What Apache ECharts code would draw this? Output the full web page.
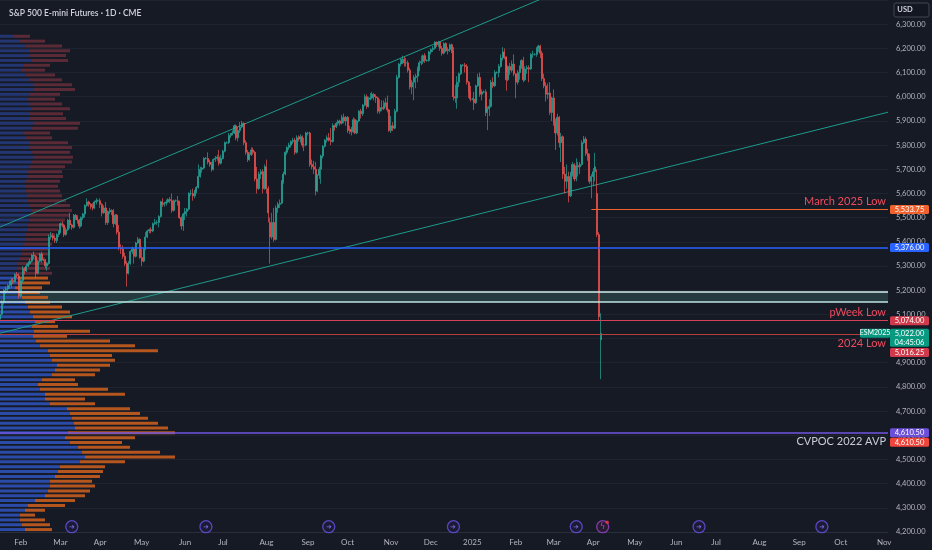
<!DOCTYPE html>
<html>
<head>
<meta charset="utf-8">
<script src="https://cdn.jsdelivr.net/npm/echarts@6.0.0/dist/echarts.min.js"></script>
<style>
html,body{margin:0;padding:0;background:#161a25;}
#chart{width:932px;height:550px;}
</style>
</head>
<body>
<div id="chart"></div>
<script>
// daily bars, one per weekday starting 2024-01-17
var startDate = '2024-01-17';
var dayCount = 471;

var monthTicks = [
    ['2024-02-01','Feb'],['2024-03-01','Mar'],['2024-04-01','Apr'],['2024-05-01','May'],
    ['2024-06-03','Jun'],['2024-07-01','Jul'],['2024-08-01','Aug'],['2024-09-02','Sep'],
    ['2024-10-01','Oct'],['2024-11-01','Nov'],['2024-12-02','Dec'],['2025-01-01','2025'],
    ['2025-02-03','Feb'],['2025-03-03','Mar'],['2025-04-01','Apr'],['2025-05-01','May'],
    ['2025-06-02','Jun'],['2025-07-01','Jul'],['2025-08-01','Aug'],['2025-09-01','Sep'],
    ['2025-10-01','Oct'],['2025-11-03','Nov']
];

// [open, close, low, high]
var candles = [
    // Jan 2024
    [5080,5100,5070,5110],[5100,5150,5095,5160],[5150,5200,5140,5205],
    [5200,5205,5185,5215],[5205,5215,5195,5225],[5215,5220,5205,5240],[5220,5240,5210,5250],[5240,5235,5225,5250],
    [5235,5265,5230,5270],[5265,5260,5250,5275],[5260,5175,5165,5270],
    // Feb
    [5175,5240,5170,5245],[5240,5290,5230,5300],
    [5290,5280,5265,5295],[5280,5300,5275,5310],[5300,5310,5295,5320],[5310,5320,5305,5330],[5320,5345,5315,5350],
    [5345,5340,5330,5360],[5340,5270,5250,5345],[5270,5320,5265,5325],[5320,5350,5315,5355],[5350,5325,5315,5360],
    [5325,5325,5320,5330],[5325,5300,5290,5330],[5300,5310,5280,5315],[5310,5420,5305,5430],[5420,5425,5410,5440],
    [5425,5415,5405,5435],[5415,5405,5395,5425],[5405,5430,5395,5435],[5430,5440,5420,5450],
    // Mar
    [5440,5475,5435,5480],
    [5475,5470,5460,5485],[5470,5430,5420,5475],[5430,5450,5425,5460],[5450,5490,5445,5495],[5490,5470,5455,5520],
    [5470,5460,5450,5475],[5460,5510,5455,5515],[5510,5500,5490,5515],[5500,5490,5475,5510],[5490,5465,5455,5495],
    [5465,5500,5460,5505],[5500,5515,5490,5520],[5515,5550,5500,5555],[5550,5565,5545,5580],[5565,5555,5545,5570],
    [5555,5545,5535,5560],[5545,5540,5530,5560],[5540,5565,5535,5570],[5565,5570,5555,5580],[5570,5570,5565,5575],
    // Apr
    [5570,5555,5540,5580],[5555,5520,5505,5560],[5520,5540,5515,5550],[5540,5480,5470,5565],[5480,5525,5470,5530],
    [5525,5525,5515,5540],[5525,5530,5510,5535],[5530,5475,5460,5535],[5475,5510,5470,5515],[5510,5440,5430,5515],
    [5440,5375,5365,5470],[5375,5370,5350,5390],[5370,5340,5330,5385],[5340,5310,5300,5355],[5310,5270,5215,5320],
    [5270,5310,5265,5320],[5310,5360,5305,5365],[5360,5370,5350,5380],[5370,5340,5310,5375],[5340,5395,5335,5400],
    [5395,5410,5390,5420],[5410,5335,5330,5415],
    // May
    [5335,5320,5300,5380],[5320,5370,5315,5375],[5370,5420,5365,5440],
    [5420,5445,5415,5450],[5445,5450,5435,5455],[5450,5445,5435,5460],[5445,5475,5440,5480],[5475,5480,5470,5495],
    [5480,5480,5470,5490],[5480,5505,5460,5510],[5505,5565,5500,5570],[5565,5555,5545,5580],[5555,5560,5545,5565],
    [5560,5565,5550,5575],[5565,5575,5560,5580],[5575,5570,5560,5585],[5570,5530,5520,5600],[5530,5570,5525,5575],
    [5570,5570,5565,5575],[5570,5565,5550,5590],[5565,5500,5495,5570],[5500,5465,5450,5505],[5465,5515,5445,5520],
    // Jun
    [5515,5525,5490,5540],[5525,5535,5505,5540],[5535,5600,5530,5605],[5600,5600,5590,5615],[5600,5590,5570,5620],
    [5590,5610,5580,5615],[5610,5625,5600,5630],[5625,5670,5620,5720],[5670,5700,5665,5710],[5700,5705,5685,5710],
    [5705,5745,5700,5750],[5745,5745,5740,5750],[5745,5730,5720,5770],[5730,5720,5710,5740],[5720,5700,5690,5730],
    [5700,5740,5695,5745],[5740,5745,5730,5755],[5745,5750,5735,5760],[5750,5725,5715,5780],[5725,5745,5720,5760],
    // Jul
    [5745,5775,5740,5780],[5775,5810,5770,5815],[5810,5810,5805,5815],[5810,5840,5805,5850],[5840,5845,5830,5850],
    [5845,5850,5840,5860],[5850,5880,5845,5885],[5880,5830,5820,5885],[5830,5860,5815,5875],[5860,5875,5850,5895],
    [5875,5890,5870,5900],[5890,5810,5800,5895],[5810,5770,5760,5820],[5770,5740,5730,5780],[5740,5760,5735,5770],
    [5760,5780,5755,5790],[5780,5770,5760,5790],[5770,5660,5650,5775],[5660,5620,5600,5710],[5620,5680,5615,5690],
    [5680,5690,5660,5700],[5690,5620,5600,5700],[5620,5710,5615,5720],
    // Aug
    [5710,5620,5600,5740],[5620,5520,5480,5630],
    [5480,5420,5310,5500],[5420,5480,5410,5520],[5480,5410,5400,5540],[5410,5540,5405,5550],[5540,5555,5520,5565],
    [5555,5560,5540,5575],[5560,5650,5555,5655],[5650,5680,5640,5690],[5680,5770,5675,5775],[5770,5790,5760,5795],
    [5790,5800,5780,5810],[5800,5815,5790,5820],[5815,5820,5805,5830],[5820,5770,5760,5830],[5770,5830,5765,5840],
    [5830,5825,5815,5840],[5825,5835,5810,5845],[5835,5800,5790,5840],[5800,5800,5775,5830],[5800,5850,5795,5855],
    // Sep
    [5850,5850,5840,5855],[5850,5720,5710,5855],[5720,5710,5700,5740],[5710,5700,5680,5735],[5700,5610,5592,5730],
    [5610,5675,5605,5680],[5675,5700,5660,5710],[5700,5755,5640,5760],[5755,5795,5745,5800],[5795,5820,5790,5825],
    [5820,5830,5810,5840],[5830,5820,5815,5850],[5820,5815,5800,5870],[5815,5880,5810,5890],[5880,5875,5860,5885],
    [5875,5890,5870,5895],[5890,5900,5880,5905],[5900,5890,5880,5905],[5890,5915,5885,5925],[5915,5900,5890,5930],
    [5900,5915,5880,5920],
    // Oct
    [5915,5860,5850,5920],[5860,5865,5845,5880],[5865,5855,5840,5875],[5855,5905,5850,5915],
    [5905,5850,5845,5910],[5850,5900,5845,5905],[5900,5940,5895,5945],[5940,5930,5910,5950],[5930,5965,5920,5970],
    [5965,6000,5960,6010],[6000,5960,5950,6010],[5960,5990,5955,6000],[5990,5995,5985,6015],[5995,6010,5990,6020],
    [6010,6000,5985,6015],[6000,5995,5975,6010],[5995,5940,5930,6000],[5940,5955,5930,5990],[5955,5950,5940,5985],
    [5950,5965,5945,5985],[5965,5975,5955,5995],[5975,5945,5935,6005],[5945,5860,5855,5950],
    // Nov
    [5860,5880,5850,5920],
    [5880,5870,5858,5895],[5870,5940,5865,5950],[5940,6080,5935,6090],[6080,6135,6075,6140],[6135,6140,6125,6160],
    [6140,6155,6135,6170],[6155,6140,6125,6165],[6140,6140,6125,6160],[6140,6110,6100,6150],[6110,6040,6030,6120],
    [6040,6060,6010,6070],[6060,6080,5985,6090],[6080,6085,6035,6095],[6085,6115,6060,6125],[6115,6140,6105,6150],
    [6140,6145,6130,6170],[6145,6170,6135,6175],[6170,6150,6140,6180],[6150,6150,6145,6155],[6150,6185,6145,6190],
    // Dec
    [6185,6195,6175,6200],[6195,6200,6185,6210],[6200,6225,6195,6230],[6225,6215,6205,6228],[6215,6225,6205,6231],
    [6225,6200,6190,6230],[6200,6180,6170,6210],[6180,6220,6175,6225],[6220,6190,6185,6225],[6190,6195,6175,6205],
    [6195,6215,6185,6220],[6215,6190,6180,6220],[6190,6000,5985,6205],[6000,5995,5975,6050],[5995,6060,5950,6085],
    [6060,6095,6040,6100],[6095,6130,6090,6135],[6130,6130,6125,6135],[6130,6125,6100,6140],[6125,6060,6050,6135],
    [6060,6020,5995,6065],[6020,5990,5980,6045],
    // Jan 2025
    [5990,5990,5985,5995],[5990,5975,5945,6020],[5975,6045,5970,6050],
    [6045,6080,6040,6095],[6080,6010,6000,6100],[6010,6020,5985,6030],[6020,6020,6015,6025],[6020,5935,5920,6030],
    [5935,5950,5862,5960],[5950,5960,5920,5990],[5960,6060,5955,6070],[6060,6045,6035,6080],[6045,6100,6040,6110],
    [6100,6100,6095,6105],[6100,6125,6080,6135],[6125,6160,6120,6175],[6160,6185,6150,6205],[6185,6165,6155,6200],
    [6165,6070,6025,6100],[6070,6125,6065,6130],[6125,6110,6090,6140],[6110,6135,6100,6150],[6135,6095,6085,6175],
    // Feb
    [6095,6060,5994,6070],[6060,6100,6050,6110],[6100,6125,6070,6130],[6125,6150,6115,6155],[6150,6070,6060,6165],
    [6070,6115,6065,6125],[6115,6120,6095,6130],[6120,6115,6060,6130],[6115,6175,6110,6180],[6175,6175,6160,6190],
    [6175,6175,6170,6180],[6175,6200,6165,6205],[6200,6210,6185,6215],[6210,6180,6160,6215],[6180,6075,6065,6190],
    [6075,6045,6035,6095],[6045,6010,5980,6060],[6010,6015,5990,6055],[6015,5935,5925,6060],[5935,5995,5900,6000],
    // Mar
    [5995,5895,5880,6030],[5895,5850,5780,5910],[5850,5915,5840,5930],[5915,5810,5790,5920],[5810,5835,5730,5850],
    [5835,5680,5660,5840],[5680,5650,5600,5710],[5650,5670,5620,5720],[5670,5590,5563,5690],[5590,5680,5585,5690],
    [5680,5720,5670,5730],[5720,5660,5650,5725],[5660,5715,5650,5745],[5715,5710,5670,5730],[5710,5720,5680,5730],
    [5720,5810,5715,5820],[5810,5825,5805,5838],[5825,5765,5755,5835],[5765,5755,5735,5785],[5755,5650,5640,5765],
    [5650,5670,5580,5680],
    // Apr
    [5670,5690,5630,5705],[5690,5710,5650,5768],[5600,5430,5420,5700],[5430,5090,5074,5440],
    [4995,5022,4832,5105]
];

// volume profile, 20-point rows from 4200 upward
var vpStep = 20;
var vpBase = 4200;
var vpUp = [
    25,22,20,20,25,28,35,45,48,50, 50,55,58,60,80,85,82,78,70,65,
    68,75,74,72,70,67,50,45,45,40, 38,42,52,55,57,52,50,48,40,36,
    33,34,32,35,33,30,28,25,22,18, 15,18,18,20,18,18,20,22,22,24,
    25,26,28,28,30,30,32,30,28,27, 26,25,26,28,28,30,32,33,32,30,
    30,25,24,32,34,30,30,32,30,28, 30,34,33,30,26,22,24,32,30,30,
    26,20,14,0,0,0,0,0,0,0
];
var vpDown = [
    27,28,25,15,20,37,40,40,42,45, 42,45,45,45,45,90,78,52,52,70,
    107,93,84,76,70,63,45,40,80,68, 40,33,43,45,53,63,62,110,95,74,
    34,56,26,20,39,40,34,25,26,22, 27,32,30,32,32,30,25,28,26,28,
    25,29,30,34,35,40,40,40,38,35, 34,33,34,35,34,35,40,40,38,42,
    38,27,26,46,46,36,33,38,32,27, 30,41,39,32,29,23,26,36,36,40,
    36,25,16,0,0,0,0,0,0,0
];
var vpValueAreaTop = 5260;

var trendUpper = [[0, 5461], [300, 6449]];
var trendLower = [[0, 5022], [470, 5936]];

var bandPrices = [5151, 5192];
var levelPrices = [5533.75, 5376.00, 5074.00, 5016.25, 4610.50];
var levelNames = ['March 2025 Low', '', 'pWeek Low', '2024 Low', 'CVPOC 2022 AVP'];
var levelStartIdx = [313, 0, 0, 0, 0];

var tagPrices = [5533.75, 5376.00, 5074.00, 5022.00, 5016.25, 4610.50, 4610.50];
var lastPrice = 5022.00;
var countdown = '04:45:06';
var contractName = 'ESM2025';

var eventDates = ['2024-03-11','2024-06-18','2024-09-17','2024-12-18','2025-03-19','2025-06-18','2025-09-17'];
var alertDates = ['2025-04-08'];

// ---- build categories (weekdays) ----
var days = [];
(function () {
    var d = new Date(startDate + 'T00:00:00Z');
    while (days.length < dayCount) {
        var wd = d.getUTCDay();
        if (wd !== 0 && wd !== 6) days.push(d.toISOString().slice(0, 10));
        d.setUTCDate(d.getUTCDate() + 1);
    }
})();
var tickMap = {};
monthTicks.forEach(function (t) { tickMap[t[0]] = t[1]; });

var vpCats = [];
for (var k = 0; k < vpUp.length; k++) vpCats.push(String(vpBase + k * vpStep));

function fmt(v) {
    return v.toLocaleString('en-US', {minimumFractionDigits: 2, maximumFractionDigits: 2});
}

var lvlColor = ['#f0622d', '#2962ff', '#d6405a', '#b8403c', '#7256e0'];
var lvlTextColor = ['#ef4b5f', '', '#ef4b5f', '#ef4b5f', '#c9cbd6'];
var lvlPos = ['insideEndTop', 'insideEndTop', 'insideEndTop', 'insideEndBottom', 'insideEndBottom'];
var lvlWidth = [1, 1.5, 1, 1, 1.5];

var markLines = [];
levelPrices.forEach(function (p, i) {
    var style = {color: lvlColor[i], width: lvlWidth[i], type: 'solid'};
    var label = {
        show: !!levelNames[i], formatter: levelNames[i], position: lvlPos[i],
        color: lvlTextColor[i], fontSize: 11, fontFamily: 'Lato', distance: [2, 3]
    };
    if (levelStartIdx[i] > 0) {
        markLines.push([
            {coord: [days[levelStartIdx[i]], p], lineStyle: style, label: label},
            {coord: [days[days.length - 1], p]}
        ]);
    } else {
        markLines.push({yAxis: p, lineStyle: style, label: label});
    }
});
bandPrices.forEach(function (p, i) {
    markLines.push({yAxis: p, lineStyle: {color: i ? '#d3f1ee' : '#bfe4e0', width: 1.5, type: 'solid'}, label: {show: false}});
});

var upItems = vpUp.map(function (v, k) {
    var inVA = vpBase + k * vpStep < vpValueAreaTop;
    return {value: v, itemStyle: {color: inVA ? '#2b4ba8' : '#233671'}};
});
var downItems = vpDown.map(function (v, k) {
    var inVA = vpBase + k * vpStep < vpValueAreaTop;
    return {value: v, itemStyle: {color: inVA ? '#b5561f' : '#5b2a37'}};
});

var chart = echarts.init(document.getElementById('chart'));

var option = {
    backgroundColor: '#161a25',
    animation: false,
    title: {
        text: 'S\u0026P 500 E-mini Futures \u00b7 1D \u00b7 CME',
        left: 4, top: 4,
        textStyle: {color: '#d1d4dc', fontSize: 8.5, fontWeight: 600, fontFamily: 'Lato'}
    },
    grid: [
        {left: 0, right: 44, top: -4, bottom: 18, containLabel: false},
        {left: 0, right: 44, top: -4, bottom: 18, containLabel: false}
    ],
    xAxis: [{
        type: 'category',
        data: days,
        boundaryGap: false,
        gridIndex: 0,
        axisLine: {lineStyle: {color: '#2a2e39'}},
        axisTick: {show: false},
        splitLine: {show: false},
        axisLabel: {
            color: '#b2b5be', fontSize: 8, fontFamily: 'Lato', margin: 6,
            interval: function (i, v) { return tickMap.hasOwnProperty(v); },
            formatter: function (v) { return tickMap[v] || ''; }
        }
    }, {
        type: 'value', gridIndex: 1, min: 0, max: 888, show: false
    }],
    yAxis: [{
        type: 'value',
        gridIndex: 0,
        position: 'right',
        min: 4200, max: 6400, interval: 100,
        axisLine: {show: false},
        axisTick: {show: false},
        splitLine: {lineStyle: {color: '#1f2330', width: 1}},
        axisLabel: {
            color: '#b2b5be', fontSize: 7.5, fontFamily: 'Lato', margin: 8,
            showMaxLabel: false,
            formatter: function (v) { return fmt(v); }
        }
    }, {
        type: 'category', gridIndex: 1, data: vpCats, show: false
    }],
    series: [{
        type: 'bar', xAxisIndex: 1, yAxisIndex: 1, stack: 'vp',
        data: upItems, barWidth: 3, silent: true, z: 1
    }, {
        type: 'bar', xAxisIndex: 1, yAxisIndex: 1, stack: 'vp',
        data: downItems, barWidth: 3, silent: true, z: 1
    }, {
        type: 'candlestick',
        xAxisIndex: 0, yAxisIndex: 0,
        data: candles,
        barWidth: 1.5,
        z: 3,
        itemStyle: {
            color: '#26a69a', color0: '#ef5350',
            borderColor: '#26a69a', borderColor0: '#ef5350', borderWidth: 0.7
        },
        markArea: {
            silent: true,
            itemStyle: {color: '#263b3f'},
            data: [[{yAxis: bandPrices[0]}, {yAxis: bandPrices[1]}]]
        },
        markLine: {
            silent: true, symbol: ['none', 'none'], animation: false,
            data: markLines
        }
    }, {
        type: 'line', data: trendUpper, symbol: 'none', silent: true, z: 2,
        lineStyle: {color: '#1f9a8a', width: 1}
    }, {
        type: 'line', data: trendLower, symbol: 'none', silent: true, z: 2,
        lineStyle: {color: '#1f9a8a', width: 1}
    }, {
        type: 'scatter', silent: true, z: 5,
        data: eventDates.map(function (d) { return [d, 4222]; }),
        symbol: 'circle', symbolSize: 12,
        itemStyle: {color: '#1d1b3a', borderColor: '#6b52e6', borderWidth: 1.3},
        label: {show: true, position: 'inside', formatter: '\u279c', color: '#8c79ff', fontSize: 7}
    }, {
        type: 'scatter', silent: true, z: 5,
        data: alertDates.map(function (d) { return [d, 4222]; }),
        symbol: 'circle', symbolSize: 12,
        itemStyle: {color: '#2a1b35', borderColor: '#9b45c9', borderWidth: 1.3},
        label: {show: true, position: 'inside', formatter: 'ϟ', color: '#d84fe6', fontSize: 8, fontFamily: 'DejaVu Sans'}
    }, {
        type: 'scatter', silent: true, z: 6,
        data: alertDates.map(function (d) { return [d, 4222]; }),
        symbol: 'circle', symbolSize: 3.5, symbolOffset: [4.5, -4.5],
        itemStyle: {color: '#f23645'}
    }]
};
chart.setOption(option);

// price tags on the right scale
var tagBg = ['#f0622d', '#2962ff', '#d03a4b', '#089981', '#d03a4b', '#6c4fd8', '#f0453a'];
var tagShift = [0, 0, 0, 4.5, 18, 0, 9.5];
var tagH = [9, 9, 9, 18, 9, 9, 9];
var els = [];
tagPrices.forEach(function (p, i) {
    var y = chart.convertToPixel({yAxisIndex: 0}, p) + tagShift[i];
    var txt = fmt(p);
    if (p === lastPrice) txt = fmt(p) + '\n' + countdown;
    els.push({
        type: 'rect', z: 100,
        shape: {x: 890, y: y - tagH[i] / 2, width: 39, height: tagH[i], r: 1.5},
        style: {fill: tagBg[i]}
    });
    els.push({
        type: 'text', z: 101, x: 909.5, y: y,
        style: {text: txt, fill: '#ffffff', fontSize: 7.5, fontFamily: 'Lato', lineHeight: 9,
            align: 'center', verticalAlign: 'middle'}
    });
    if (p === lastPrice) {
        var y0 = chart.convertToPixel({yAxisIndex: 0}, p);
        els.push({
            type: 'rect', z: 100,
            shape: {x: 860, y: y0 - 4.5, width: 30, height: 9, r: 1.5},
            style: {fill: '#089981'}
        });
        els.push({
            type: 'text', z: 101, x: 875, y: y0,
            style: {text: contractName, fill: '#ffffff', fontSize: 7, fontFamily: 'Lato',
                align: 'center', verticalAlign: 'middle'}
        });
    }
});
els.push({
    type: 'rect', z: 100,
    shape: {x: 894, y: 3, width: 35, height: 14, r: 2},
    style: {fill: '#131722', stroke: '#434651', lineWidth: 1}
});
els.push({
    type: 'text', z: 101, x: 905, y: 10,
    style: {text: 'USD', fill: '#d1d4dc', fontSize: 7.5, fontWeight: 'bold', fontFamily: 'Lato',
        align: 'center', verticalAlign: 'middle'}
});
chart.setOption({graphic: els});
</script>
</body>
</html>
